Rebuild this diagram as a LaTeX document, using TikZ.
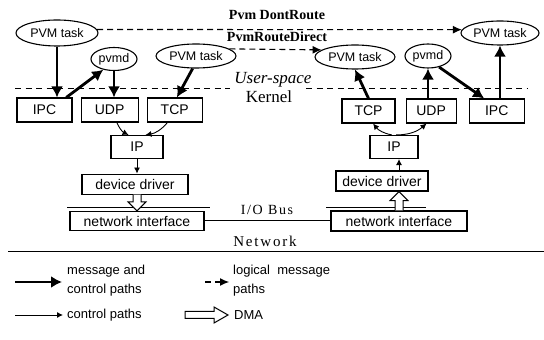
\documentclass[tikz,border=0pt]{standalone}
\usepackage{fontspec}
\setmainfont{Liberation Serif}
\setsansfont{Liberation Sans}
\newfontfamily\spacedserif[LetterSpace=12]{Liberation Serif}
\usetikzlibrary{arrows.meta,positioning,shapes.geometric,calc}

\begin{document}
\begin{tikzpicture}[x=1pt, y=1pt,
    >={Latex[length=11pt,width=12pt]},
    box/.style={draw, line width=1.1pt, minimum height=24pt, inner sep=1pt,
      font=\sffamily\fontsize{14}{14}\selectfont},
    task/.style={draw, ellipse, line width=1.1pt, minimum height=24pt, inner sep=0pt,
      font=\sffamily\fontsize{12.5}{13}\selectfont},
    msg/.style={->, line width=2.8pt},
    ctl/.style={-{Latex[length=6pt,width=6pt]}, line width=0.9pt},
    logical/.style={-{Latex[length=9pt,width=8pt]}, line width=1.1pt, dash pattern=on 6pt off 4pt},
    sep/.style={line width=1pt, dash pattern=on 6pt off 4.5pt},
    bus/.style={line width=1pt},
    dma/.style={draw, line width=1pt, fill=white},
    legend/.style={anchor=west, align=left, inner sep=0pt,
      font=\sffamily\fontsize{13}{19}\selectfont}]
  \useasboundingbox (0,0) rectangle (544,340);

  %% Logical paths
  \node[font=\bfseries\fontsize{14}{14}\selectfont] (dontroute) at (277,325) {Pvm DontRoute};
  \node[font=\bfseries\fontsize{14}{14}\selectfont] (routedirect) at (277,303) {PvmRouteDirect};

  %% User-space / Kernel
  \draw[sep] (15,251) -- (230,251);
  \draw[sep] (306,251) -- (528,251);
  \node[font=\itshape\fontsize{17}{17}\selectfont] (user) at (273,260) {User-space};
  \node[font=\fontsize{17}{17}\selectfont] (kern) at (269,243) {Kernel};

  %% Host 1
  \node[task, minimum width=82pt, minimum height=26pt] (t1) at (57,307) {PVM task};
  \node[task, minimum width=46pt, minimum height=23pt] (d1) at (114,281) {pvmd};
  \node[task, minimum width=80pt]                      (t2) at (196,284) {PVM task};
  \node[box, minimum width=55pt]                (ipc1) at (44.5,230) {IPC};
  \node[box, minimum width=57pt, right=8pt of ipc1] (udp1) {UDP};
  \node[box, minimum width=55pt, right=8pt of udp1] (tcp1) {TCP};
  \node[box, minimum width=52pt, minimum height=23pt] (ip1) at (137,193) {IP};
  \node[box, minimum width=106pt, minimum height=20pt, below=14.5pt of ip1, xshift=-2pt] (dd1) {device driver};
  \node[box, minimum width=134pt, minimum height=19pt] (ni1) at (137,119) {network interface};

  %% Host 2
  \node[task, minimum width=80pt] (t3) at (355,283) {PVM task};
  \node[task, minimum width=46pt] (d2) at (428,284) {pvmd};
  \node[task, minimum width=78pt] (t4) at (500,307) {PVM task};
  \node[box, minimum width=53pt]                      (tcp2) at (368.5,229) {TCP};
  \node[box, minimum width=50pt, right=10pt of tcp2]  (udp2) {UDP};
  \node[box, minimum width=55pt, right=12pt of udp2]  (ipc2) {IPC};
  \node[box, minimum width=48pt, minimum height=23pt] (ip2) at (394,193) {IP};
  \node[box, minimum width=92pt, minimum height=20pt] (dd2) at (382,159) {device driver};
  \node[box, minimum width=136pt, minimum height=20pt] (ni2) at (399,119) {network interface};

  %% Buses
  \draw[bus] (67,132) -- (210,132);
  \draw[bus] (326,132) -- (426,132);
  \node[font=\spacedserif\fontsize{14}{14}\selectfont] (iobus) at (267,130) {I/O Bus};
  \draw[bus] (ni1.east) -- (ni2.west);
  \node[font=\spacedserif\fontsize{15}{15}\selectfont] (net) at (265,99) {Network};
  \draw[bus] (8,88) -- (544,88);

  %% Host 1 paths
  \draw[msg] (t1.south) -- (t1.south |- ipc1.north);
  \draw[msg] (ipc1.30) -- (d1.225);
  \draw[msg] (d1.south) -- (d1.south |- udp1.north);
  \draw[msg] (t2.255) -- (tcp1.80);
  \draw[ctl] (udp1.-60) to[bend right=20] (ip1.125);
  \draw[ctl] (tcp1.-120) to[bend left=20] (ip1.55);
  \draw[ctl] (ip1.south) -- (ip1.south |- dd1.north);
  \coordinate (dma1) at (ni1.north |- dd1.south);
  \draw[dma] ($(dma1)+(-4,0)$) -- ($(ni1.north)+(-4,9)$) -- ($(ni1.north)+(-9,9)$)
    -- (ni1.north) -- ($(ni1.north)+(9,9)$) -- ($(ni1.north)+(4,9)$) -- ($(dma1)+(4,0)$);

  %% Host 2 paths
  \draw[msg] (tcp2.north) -- (t3.south);
  \draw[msg] (d2.south |- udp2.north) -- (d2.south);
  \draw[msg] (d2.-45) -- (ipc2.135);
  \draw[msg] (t4.south |- ipc2.north) -- (t4.south);
  \draw[ctl] (ip2.100) to[bend left=20] (tcp2.-70);
  \draw[ctl] (ip2.80) to[bend right=20] (udp2.-110);
  \draw[ctl] (ni2.north |- dd2.north) -- (ni2.north |- ip2.south);
  \coordinate (dma2) at (ni2.north |- dd2.south);
  \draw[dma] ($(ni2.north)+(-4,0)$) -- ($(dma2)+(-4,-9)$) -- ($(dma2)+(-9,-9)$)
    -- (dma2) -- ($(dma2)+(9,-9)$) -- ($(dma2)+(4,-9)$) -- ($(ni2.north)+(4,0)$);

  %% Logical message paths
  \draw[logical] (t1.5) -- (t4.175);
  \draw[logical] (t2.12) -- (t3.168);

  %% Legend
  \coordinate (m0) at (15,58);
  \coordinate (m1) at (62,58);
  \draw[msg] (m0) -- (m1);
  \node[legend] (mtxt) at (67,59.5) {message and\\control paths};
  \coordinate (l0) at (205,58);
  \coordinate (l1) at (229,58);
  \draw[logical] (l0) -- (l1);
  \node[legend] (ltxt) at (233,59.5) {logical\ \ message\\paths};
  \coordinate (c0) at (15,25);
  \coordinate (c1) at (63,25);
  \draw[ctl] (c0) -- (c1);
  \node[legend] (ctxt) at (67,25) {control paths};
  \coordinate (k0) at (185,25);
  \coordinate (k1) at (228,25);
  \draw[dma] ($(k0)+(0,3.5)$) -- ($(k1)+(-14,3.5)$) -- ($(k1)+(-14,8)$) -- (k1)
    -- ($(k1)+(-14,-8)$) -- ($(k1)+(-14,-3.5)$) -- ($(k0)+(0,-3.5)$) -- cycle;
  \node[legend] (ktxt) at (234,25) {DMA};
\end{tikzpicture}
\end{document}
